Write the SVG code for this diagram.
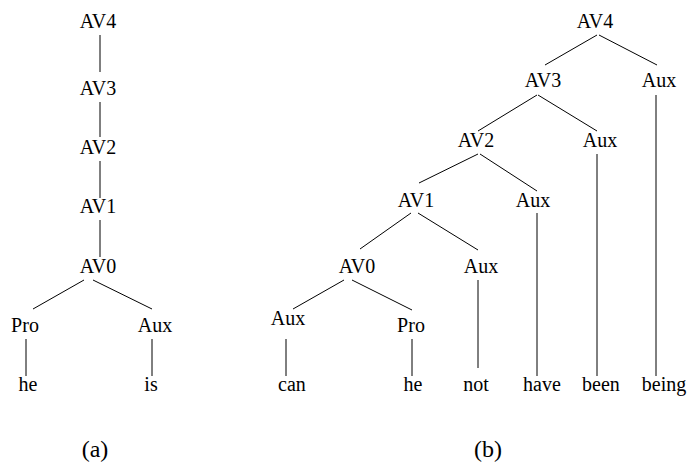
<svg xmlns="http://www.w3.org/2000/svg" width="688" height="470" viewBox="0 0 688 470">
<style>
.e line{stroke:#000;stroke-width:1}
</style>
<rect width="688" height="470" fill="#fff"/>
<g class="e" id="connectors">
<line x1="100" y1="35" x2="100" y2="72"/>
<line x1="100" y1="102" x2="100" y2="137"/>
<line x1="100" y1="161" x2="100" y2="198"/>
<line x1="100" y1="220" x2="100" y2="257"/>
<line x1="84" y1="280" x2="33" y2="309"/>
<line x1="93" y1="280" x2="152" y2="309"/>
<line x1="26" y1="339" x2="26" y2="376"/>
<line x1="152" y1="339" x2="152" y2="376"/>
<line x1="597" y1="35" x2="545" y2="65"/>
<line x1="599" y1="35" x2="657" y2="65"/>
<line x1="656" y1="95" x2="656" y2="376"/>
<line x1="537" y1="95" x2="478" y2="131"/>
<line x1="538" y1="95" x2="597" y2="131"/>
<line x1="597" y1="154" x2="597" y2="376"/>
<line x1="478" y1="154" x2="419" y2="183"/>
<line x1="480" y1="154" x2="537" y2="191"/>
<line x1="537" y1="213" x2="537" y2="376"/>
<line x1="411" y1="213" x2="360" y2="249"/>
<line x1="418" y1="213" x2="478" y2="250"/>
<line x1="478" y1="280" x2="478" y2="368"/>
<line x1="344" y1="280" x2="293" y2="309"/>
<line x1="352" y1="280" x2="412" y2="310"/>
<line x1="286" y1="339" x2="286" y2="376"/>
<line x1="412" y1="339" x2="412" y2="376"/>
</g>
<g id="a-AV4"><text font-family="Liberation Serif" font-size="20" text-anchor="middle" x="98" y="28">AV4</text></g>
<g id="a-AV3"><text font-family="Liberation Serif" font-size="20" text-anchor="middle" x="98" y="95">AV3</text></g>
<g id="a-AV2"><text font-family="Liberation Serif" font-size="20" text-anchor="middle" x="98" y="154">AV2</text></g>
<g id="a-AV1"><text font-family="Liberation Serif" font-size="20" text-anchor="middle" x="98" y="213">AV1</text></g>
<g id="a-AV0"><text font-family="Liberation Serif" font-size="20" text-anchor="middle" x="98" y="273">AV0</text></g>
<g id="a-Pro"><text font-family="Liberation Serif" font-size="20" text-anchor="middle" x="25" y="332">Pro</text></g>
<g id="a-Aux"><text font-family="Liberation Serif" font-size="20" text-anchor="middle" x="155" y="332">Aux</text></g>
<g id="a-he"><text font-family="Liberation Serif" font-size="20" text-anchor="middle" x="28" y="391">he</text></g>
<g id="a-is"><text font-family="Liberation Serif" font-size="20" text-anchor="middle" x="151" y="391">is</text></g>
<g id="a-label"><text font-family="Liberation Serif" font-size="24" text-anchor="middle" x="95" y="457">(a)</text></g>
<g id="b-AV4"><text font-family="Liberation Serif" font-size="20" text-anchor="middle" x="595" y="28">AV4</text></g>
<g id="b-AV3"><text font-family="Liberation Serif" font-size="20" text-anchor="middle" x="543" y="87">AV3</text></g>
<g id="b-Aux4"><text font-family="Liberation Serif" font-size="20" text-anchor="middle" x="659" y="87">Aux</text></g>
<g id="b-AV2"><text font-family="Liberation Serif" font-size="20" text-anchor="middle" x="476" y="147">AV2</text></g>
<g id="b-Aux3"><text font-family="Liberation Serif" font-size="20" text-anchor="middle" x="600" y="147">Aux</text></g>
<g id="b-AV1"><text font-family="Liberation Serif" font-size="20" text-anchor="middle" x="416" y="207">AV1</text></g>
<g id="b-Aux2"><text font-family="Liberation Serif" font-size="20" text-anchor="middle" x="533" y="207">Aux</text></g>
<g id="b-AV0"><text font-family="Liberation Serif" font-size="20" text-anchor="middle" x="357" y="273">AV0</text></g>
<g id="b-Aux1"><text font-family="Liberation Serif" font-size="20" text-anchor="middle" x="481" y="273">Aux</text></g>
<g id="b-Aux0"><text font-family="Liberation Serif" font-size="20" text-anchor="middle" x="288" y="325">Aux</text></g>
<g id="b-Pro"><text font-family="Liberation Serif" font-size="20" text-anchor="middle" x="411" y="332">Pro</text></g>
<g id="b-can"><text font-family="Liberation Serif" font-size="20" text-anchor="middle" x="292" y="391">can</text></g>
<g id="b-he"><text font-family="Liberation Serif" font-size="20" text-anchor="middle" x="413" y="391">he</text></g>
<g id="b-not"><text font-family="Liberation Serif" font-size="20" text-anchor="middle" x="476" y="391">not</text></g>
<g id="b-have"><text font-family="Liberation Serif" font-size="20" text-anchor="middle" x="542" y="391">have</text></g>
<g id="b-been"><text font-family="Liberation Serif" font-size="20" text-anchor="middle" x="601" y="391">been</text></g>
<g id="b-being"><text font-family="Liberation Serif" font-size="20" text-anchor="middle" x="664" y="391">being</text></g>
<g id="b-label"><text font-family="Liberation Serif" font-size="24" text-anchor="middle" x="488" y="457">(b)</text></g>
</svg>
